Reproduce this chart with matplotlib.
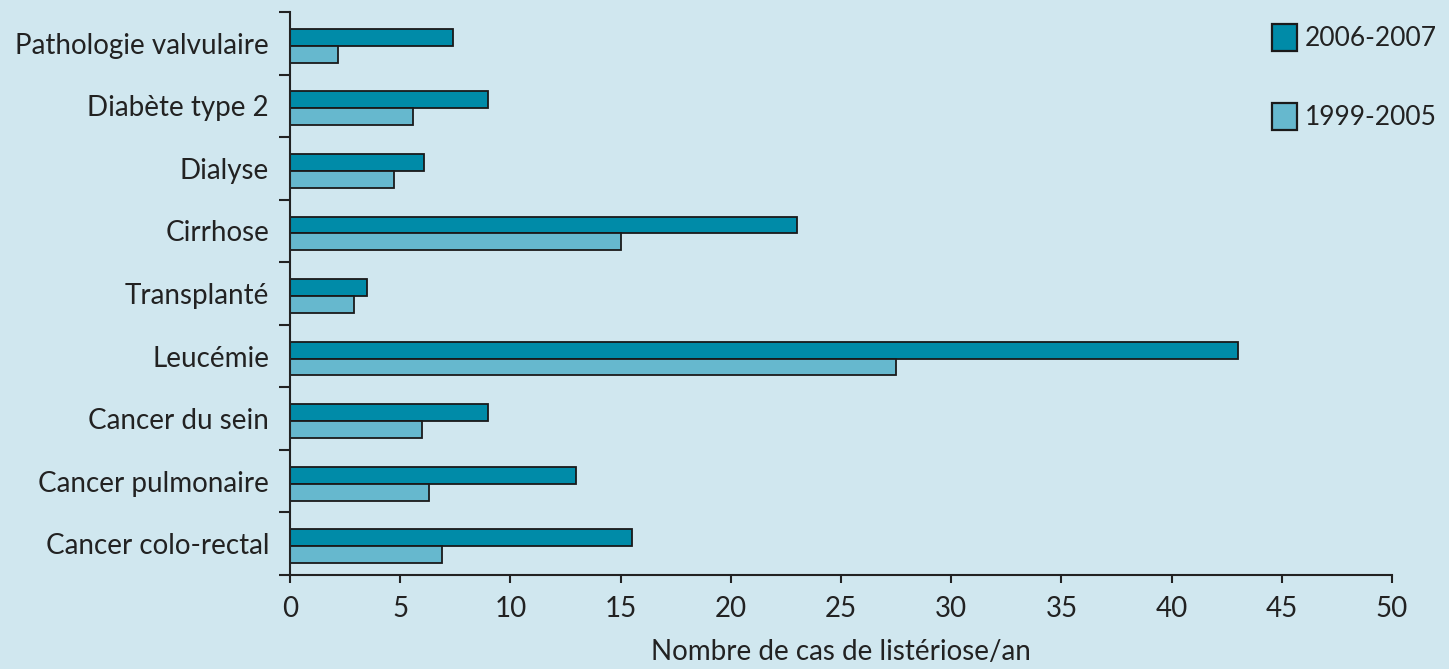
import matplotlib.pyplot as plt
import numpy as np
from matplotlib.patches import Patch

# valeurs
categories = ["Pathologie valvulaire", "Diabète type 2", "Dialyse", "Cirrhose",
              "Transplanté", "Leucémie", "Cancer du sein", "Cancer pulmonaire",
              "Cancer colo-rectal"]
cas_2006_2007 = [7.4, 9.0, 6.1, 23.0, 3.5, 43.0, 9.0, 13.0, 15.5]
cas_1999_2005 = [2.2, 5.6, 4.7, 15.0, 2.9, 27.5, 6.0, 6.3, 6.9]
xticks = [0, 5, 10, 15, 20, 25, 30, 35, 40, 45, 50]

bg = "#d0e7ef"
dark = "#008ba8"
light = "#66b8ce"
txt = "#222222"

plt.rcParams['font.family'] = ['Lato', 'DejaVu Sans']
fs = 20

fig = plt.figure(figsize=(14.49, 6.69), dpi=100, facecolor=bg)
ax = fig.add_axes([0.2001, 0.1405, 0.7606, 0.8415], facecolor=bg)

y = np.arange(len(categories))
h = 0.27
off = 0.04
ax.barh(y - h / 2 + off, cas_2006_2007, height=h, color=dark, edgecolor="#1a1a1a", linewidth=1.3)
ax.barh(y + h / 2 + off, cas_1999_2005, height=h, color=light, edgecolor="#1a1a1a", linewidth=1.3)

ax.set_ylim(len(categories) - 0.5, -0.5)
ax.set_xlim(0, 50)
ax.set_yticks(y)
ax.set_yticklabels(categories, fontsize=fs, color=txt)
ax.set_yticks(np.arange(len(categories) + 1) - 0.5, minor=True)
ax.tick_params(axis="y", which="major", length=0, pad=15)
ax.tick_params(axis="y", which="minor", length=8, width=1.5, direction="out", color=txt)
ax.set_xticks(xticks)
ax.tick_params(axis="x", labelsize=fs, length=6, width=1.5, pad=9, color=txt, labelcolor=txt)
ax.set_xlabel("Nombre de cas de listériose/an", fontsize=fs, color=txt, labelpad=12)

for s in ["top", "right"]:
    ax.spines[s].set_visible(False)
for s in ["left", "bottom"]:
    ax.spines[s].set_linewidth(1.5)
    ax.spines[s].set_color(txt)

handles = [Patch(facecolor=dark, edgecolor="#1a1a1a", linewidth=1.6, label="2006-2007"),
           Patch(facecolor=light, edgecolor="#1a1a1a", linewidth=1.6, label="1999-2005")]
fig.legend(handles=handles, loc="upper left", bbox_to_anchor=(0.867, 0.988),
           frameon=False, fontsize=19, handlelength=0.95, handleheight=1.2,
           handletextpad=0.3, labelspacing=1.95, labelcolor=txt,
           borderaxespad=0.3, borderpad=0.3)

fig.savefig("out.png", dpi=100, facecolor=bg)
